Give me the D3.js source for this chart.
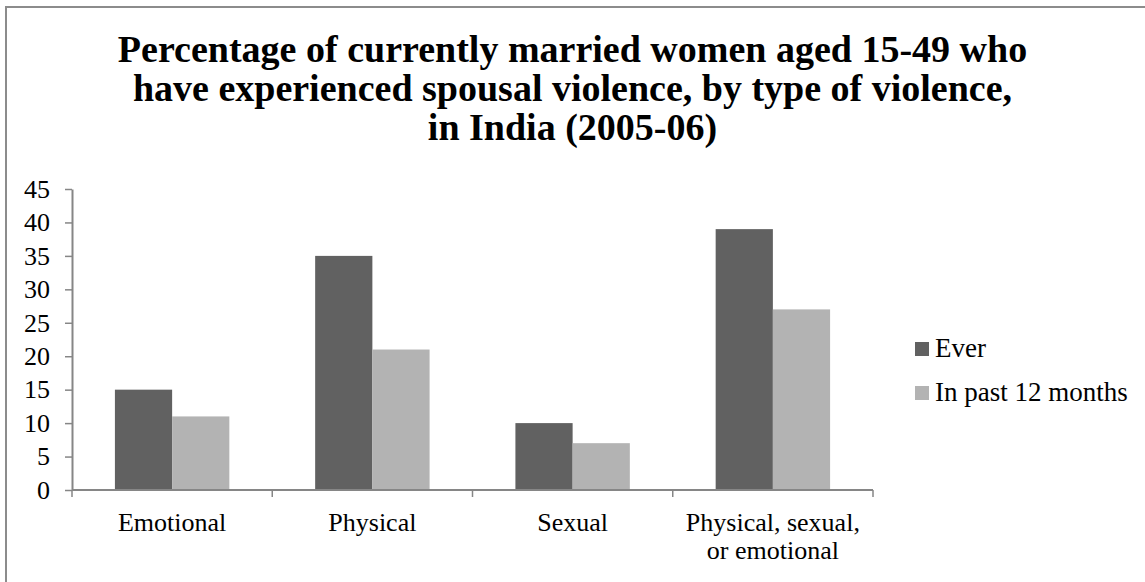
<!DOCTYPE html>
<html>
<head>
<meta charset="utf-8">
<script src="https://cdn.jsdelivr.net/npm/d3@7"></script>
<style>
  html, body { margin: 0; padding: 0; background: #fff; }
  svg { display: block; }
</style>
</head>
<body>
<div id="chart"></div>
<script>
// ── Data ─────────────────────────────────────────────────────
const CATEGORIES = [
  ['Emotional'],
  ['Physical'],
  ['Sexual'],
  ['Physical, sexual,', 'or emotional'],
];
const SERIES = ['Ever', 'In past 12 months'];
const EVER = [15, 35, 10, 39];
const PAST_12 = [11, 21, 7, 27];
const Y_TICKS = [0, 5, 10, 15, 20, 25, 30, 35, 40, 45];
const TITLE_LINES = [
  'Percentage of currently married women aged 15-49 who',
  'have experienced spousal violence, by type of violence,',
  'in India (2005-06)',
];

const COLORS = { 'Ever': '#616161', 'In past 12 months': '#b3b3b3' };
const FONT = '"Liberation Serif", "Times New Roman", serif';
const LABEL_SIZE = 26;

const width = 1145, height = 582;
const plot = { left: 72, right: 873, top: 189, bottom: 490 };

const svg = d3.select('#chart').append('svg')
  .attr('width', width)
  .attr('height', height);

// outer frame (right/bottom edges run off the picture)
svg.append('rect')
  .attr('x', 6).attr('y', 7)
  .attr('width', width + 20).attr('height', height + 20)
  .attr('fill', '#fff')
  .attr('stroke', '#8c8c8c')
  .attr('stroke-width', 2);

// ── Title ────────────────────────────────────────────────────
svg.append('text')
  .attr('text-anchor', 'middle')
  .attr('font-family', FONT)
  .attr('font-weight', 'bold')
  .attr('font-size', 38)
  .attr('fill', '#000')
  .selectAll('tspan')
  .data(TITLE_LINES)
  .join('tspan')
  .attr('x', width / 2)
  .attr('y', (d, i) => 62 + i * 39)
  .text(d => d);

// ── Scales ───────────────────────────────────────────────────
const x = d3.scaleBand()
  .domain(d3.range(CATEGORIES.length))
  .range([plot.left, plot.right])
  .paddingInner(0)
  .paddingOuter(0);

const xSub = d3.scaleBand()
  .domain(SERIES)
  .range([0, x.bandwidth()])
  .paddingOuter(0.75)
  .paddingInner(0);

const y = d3.scaleLinear()
  .domain([0, 45])
  .range([plot.bottom, plot.top]);

// ── Bars ─────────────────────────────────────────────────────
const rows = CATEGORIES.map((c, i) => ({ i, values: [EVER[i], PAST_12[i]] }));

const groups = svg.append('g')
  .selectAll('g')
  .data(rows)
  .join('g')
  .attr('transform', d => `translate(${x(d.i)},0)`);

groups.selectAll('rect')
  .data(d => d.values.map((v, k) => ({ key: SERIES[k], value: v })))
  .join('rect')
  .attr('x', d => xSub(d.key))
  .attr('width', xSub.bandwidth())
  .attr('y', d => y(d.value))
  .attr('height', d => y(0) - y(d.value))
  .attr('fill', d => COLORS[d.key]);

// ── Axes ─────────────────────────────────────────────────────
const yAxis = svg.append('g')
  .attr('transform', `translate(${plot.left},0)`)
  .call(d3.axisLeft(y).tickValues(Y_TICKS).tickSize(7).tickPadding(15).tickSizeOuter(0));
yAxis.select('.domain').attr('stroke', '#868686').attr('stroke-width', 2);
yAxis.selectAll('.tick line').attr('stroke', '#868686').attr('stroke-width', 1.5);
yAxis.selectAll('.tick text')
  .attr('font-family', FONT)
  .attr('font-size', LABEL_SIZE)
  .attr('fill', '#000');

// category boundary ticks on the x axis
const xEdges = d3.range(CATEGORIES.length + 1).map(i => plot.left + i * x.step());
const xAxis = svg.append('g');
xAxis.append('line')
  .attr('x1', plot.left).attr('x2', plot.right)
  .attr('y1', y(0)).attr('y2', y(0))
  .attr('stroke', '#868686').attr('stroke-width', 2);
xAxis.selectAll('line.edge')
  .data(xEdges)
  .join('line')
  .attr('class', 'edge')
  .attr('x1', d => d).attr('x2', d => d)
  .attr('y1', y(0)).attr('y2', y(0) + 7)
  .attr('stroke', '#868686').attr('stroke-width', 1.5);

xAxis.selectAll('text')
  .data(CATEGORIES)
  .join('text')
  .attr('text-anchor', 'middle')
  .attr('font-family', FONT)
  .attr('font-size', LABEL_SIZE)
  .attr('fill', '#000')
  .selectAll('tspan')
  .data((d, i) => d.map((line, k) => ({ line, k, i })))
  .join('tspan')
  .attr('x', d => x(d.i) + x.bandwidth() / 2)
  .attr('y', d => y(0) + 41 + d.k * 28)
  .text(d => d.line);

// ── Legend ───────────────────────────────────────────────────
const legend = svg.append('g')
  .selectAll('g')
  .data(SERIES)
  .join('g')
  .attr('transform', (d, i) => `translate(915,${342 + i * 44})`);

legend.append('rect')
  .attr('width', 14).attr('height', 14)
  .attr('fill', d => COLORS[d]);

legend.append('text')
  .attr('x', 20).attr('y', 15)
  .attr('font-family', FONT)
  .attr('font-size', 27)
  .attr('fill', '#000')
  .text(d => d);
</script>
</body>
</html>
